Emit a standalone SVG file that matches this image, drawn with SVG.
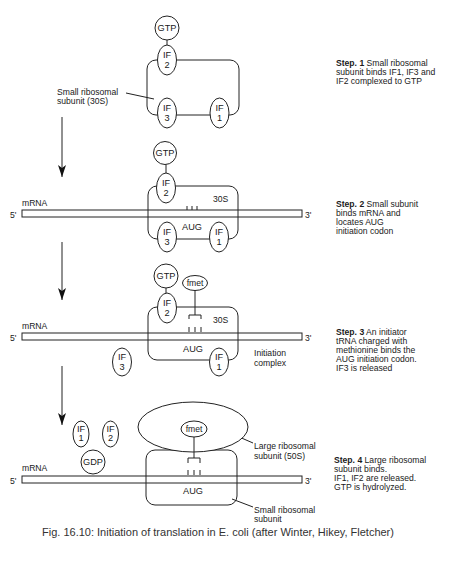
<svg xmlns="http://www.w3.org/2000/svg" width="457" height="562" viewBox="0 0 457 562">
<style>
.ln{fill:none;stroke:#222;stroke-width:1}
.nd{fill:#fff;stroke:#222;stroke-width:1}
.t{font-family:"Liberation Sans",Arial,sans-serif;font-size:8.6px;fill:#1a1a1a}
.n{font-size:9.2px}
.c{text-anchor:middle}
.b{font-weight:bold}
.cap{font-family:"Liberation Sans",Arial,sans-serif;font-size:11px;fill:#333}
</style>
<defs>
<marker id="ah" viewBox="0 0 12 8" refX="12" refY="4" markerWidth="12" markerHeight="8" markerUnits="userSpaceOnUse" orient="auto">
<path d="M0,0 L12,4 L0,8 L3,4 Z" fill="#111"/>
</marker>
</defs>
<rect width="457" height="562" fill="#fff"/>

<g id="connectors">
<line class="ln" x1="62" y1="117" x2="62" y2="177" stroke-width="1.3" marker-end="url(#ah)"/>
<line class="ln" x1="62" y1="242" x2="62" y2="300" stroke-width="1.3" marker-end="url(#ah)"/>
<line class="ln" x1="62" y1="366" x2="62" y2="425" stroke-width="1.3" marker-end="url(#ah)"/>
<line class="ln" x1="167" y1="40" x2="167" y2="45"/>
<line class="ln" x1="166" y1="164" x2="166" y2="173"/>
<line class="ln" x1="166" y1="288" x2="166" y2="293"/>
<line class="ln" x1="126" y1="93" x2="154" y2="99"/>
<line class="ln" x1="230" y1="433" x2="253" y2="443"/>
<line class="ln" x1="232" y1="499" x2="253" y2="507"/>
</g>

<g id="step1">
<rect id="ss1" class="ln" x="147" y="60" width="92" height="55" rx="9"/>
<g id="gtp1"><circle class="nd" cx="167" cy="28" r="12"/><text class="t n c" x="167" y="31">GTP</text></g>
<g id="if2a"><ellipse class="nd" cx="167" cy="60" rx="9.5" ry="15"/><text class="t n c" x="167" y="58">IF</text><text class="t n c" x="167" y="68">2</text></g>
<g id="if3a"><ellipse class="nd" cx="167" cy="113" rx="9.5" ry="15"/><text class="t n c" x="167" y="111">IF</text><text class="t n c" x="167" y="121">3</text></g>
<g id="if1a"><ellipse class="nd" cx="219.5" cy="113" rx="9.5" ry="15"/><text class="t n c" x="219.5" y="111">IF</text><text class="t n c" x="219.5" y="121">1</text></g>
<text class="t" x="57" y="95">Small ribosomal</text>
<text class="t" x="57" y="104">subunit (30S)</text>
<text class="t" x="336" y="66"><tspan class="b">Step. 1</tspan> Small ribosomal</text>
<text class="t" x="336" y="75">subunit binds IF1, IF3 and</text>
<text class="t" x="336" y="84">IF2 complexed to GTP</text>
</g>

<g id="step2">
<rect id="mrna2" class="ln" x="22" y="210" width="280" height="7"/>
<rect id="ss2" class="ln" x="148" y="186" width="90" height="53" rx="9"/>
<path class="ln" d="M187,206 v4 M192,206 v4 M197,206 v4"/>
<g id="gtp2"><circle class="nd" cx="165" cy="153" r="11.5"/><text class="t n c" x="165" y="156">GTP</text></g>
<g id="if2b"><ellipse class="nd" cx="166" cy="188" rx="9.5" ry="15"/><text class="t n c" x="166" y="186">IF</text><text class="t n c" x="166" y="196">2</text></g>
<g id="if3b"><ellipse class="nd" cx="167" cy="237" rx="9.5" ry="15"/><text class="t n c" x="167" y="235">IF</text><text class="t n c" x="167" y="245">3</text></g>
<g id="if1b"><ellipse class="nd" cx="219" cy="237" rx="9.5" ry="15"/><text class="t n c" x="219" y="235">IF</text><text class="t n c" x="219" y="245">1</text></g>
<text class="t" x="22" y="206">mRNA</text>
<text class="t" x="10" y="218">5'</text>
<text class="t" x="305" y="218">3'</text>
<text class="t" x="213" y="202">30S</text>
<text class="t n" x="182" y="230">AUG</text>
<text class="t" x="336" y="207"><tspan class="b">Step. 2</tspan> Small subunit</text>
<text class="t" x="336" y="216">binds mRNA and</text>
<text class="t" x="336" y="225">locates AUG</text>
<text class="t" x="336" y="234">initiation codon</text>
</g>

<g id="step3">
<rect id="mrna3" class="ln" x="22" y="333" width="280" height="7"/>
<rect id="ss3" class="ln" x="148" y="307" width="90" height="53" rx="9"/>
<path class="ln" d="M195,290 V315 M189,319 V315 H201 V319 M189,327 v5 M195,327 v5 M201,327 v5"/>
<g id="gtp3"><circle class="nd" cx="166" cy="276" r="12"/><text class="t n c" x="166" y="279">GTP</text></g>
<g id="fmet3"><ellipse class="nd" cx="195" cy="283" rx="12.5" ry="7.5"/><text class="t c" x="195" y="286">fmet</text></g>
<g id="if2c"><ellipse class="nd" cx="167" cy="308" rx="9.5" ry="15"/><text class="t n c" x="167" y="306">IF</text><text class="t n c" x="167" y="316">2</text></g>
<g id="if1c"><ellipse class="nd" cx="219" cy="362" rx="9.5" ry="14"/><text class="t n c" x="219" y="360">IF</text><text class="t n c" x="219" y="370">1</text></g>
<g id="if3c"><ellipse class="nd" cx="122" cy="362" rx="9.5" ry="14"/><text class="t n c" x="122" y="360">IF</text><text class="t n c" x="122" y="370">3</text></g>
<text class="t" x="22" y="329">mRNA</text>
<text class="t" x="10" y="341">5'</text>
<text class="t" x="305" y="341">3'</text>
<text class="t" x="213" y="323">30S</text>
<text class="t n" x="183" y="352">AUG</text>
<text class="t" x="254" y="356">Initiation</text>
<text class="t" x="254" y="366">complex</text>
<text class="t" x="336" y="335"><tspan class="b">Step. 3</tspan> An initiator</text>
<text class="t" x="336" y="344">tRNA charged with</text>
<text class="t" x="336" y="353">methionine binds the</text>
<text class="t" x="336" y="362">AUG initiation codon.</text>
<text class="t" x="336" y="371">IF3 is released</text>
</g>

<g id="step4">
<rect id="mrna4" class="ln" x="22" y="476" width="280" height="7"/>
<rect id="ss4" class="ln" x="146" y="450" width="91" height="55" rx="9"/>
<g id="ls4"><ellipse class="nd" cx="193" cy="427" rx="55" ry="25"/></g>
<path class="ln" d="M194,437 V458 M188,463 V458 H200 V463 M188,470 v5 M194,470 v5 M200,470 v5"/>
<g id="fmet4"><ellipse class="nd" cx="194" cy="429" rx="13" ry="8"/><text class="t c" x="194" y="432">fmet</text></g>
<g id="if1d"><ellipse class="nd" cx="81" cy="434" rx="8" ry="13"/><text class="t n c" x="81" y="432">IF</text><text class="t n c" x="81" y="441">1</text></g>
<g id="if2d"><ellipse class="nd" cx="110.5" cy="434" rx="8" ry="13"/><text class="t n c" x="110.5" y="432">IF</text><text class="t n c" x="110.5" y="441">2</text></g>
<g id="gdp4"><circle class="nd" cx="93" cy="462" r="12"/><text class="t n c" x="93" y="465">GDP</text></g>
<text class="t" x="22" y="471">mRNA</text>
<text class="t" x="10" y="484">5'</text>
<text class="t" x="305" y="484">3'</text>
<text class="t n" x="183" y="494">AUG</text>
<text class="t" x="254" y="449">Large ribosomal</text>
<text class="t" x="254" y="459">subunit (50S)</text>
<text class="t" x="254" y="513">Small ribosomal</text>
<text class="t" x="254" y="522">subunit</text>
<text class="t" x="334" y="463"><tspan class="b">Step. 4</tspan> Large ribosomal</text>
<text class="t" x="334" y="472">subunit binds.</text>
<text class="t" x="334" y="481">IF1, IF2 are released.</text>
<text class="t" x="334" y="490">GTP is hydrolyzed.</text>
</g>

<text class="cap" x="42" y="536">Fig. 16.10: Initiation of translation in E. coli (after Winter, Hikey, Fletcher)</text>
</svg>
